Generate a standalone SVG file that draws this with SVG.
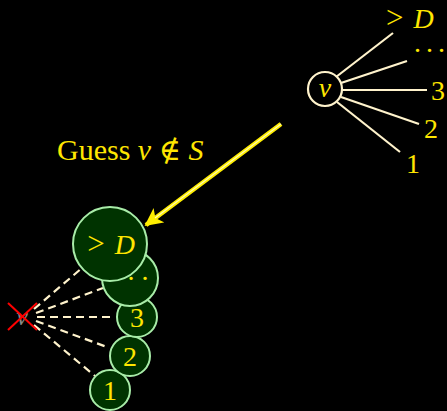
<svg xmlns="http://www.w3.org/2000/svg" width="447" height="411" viewBox="0 0 447 411">
<style>
.lbl{font-family:"Liberation Serif","DejaVu Serif",serif;fill:#ffe600;font-size:28px}
.it{font-style:italic}
.gt{font-size:31px}
.spoke{stroke:#fff3cc;stroke-width:2.2;fill:none}
.dash{stroke:#fff3cc;stroke-width:2.2;stroke-dasharray:8 5;fill:none}
.gc{fill:#003300;stroke:#a8eca8;stroke-width:2}
</style>
<defs>
<marker id="ah" viewBox="0 0 10 10" refX="9" refY="5" markerWidth="4" markerHeight="4" orient="auto" markerUnits="strokeWidth">
<path d="M0,0 L10,5 L0,10 L2.5,5 z" fill="#ffee00"/>
</marker>
</defs>
<rect width="447" height="411" fill="#000"/>
<g id="connectors">
<line class="spoke" x1="336" y1="77" x2="393" y2="33"/>
<line class="spoke" x1="341" y1="83" x2="407" y2="61"/>
<line class="spoke" x1="342" y1="90" x2="427" y2="90"/>
<line class="spoke" x1="341" y1="97" x2="419" y2="124"/>
<line class="spoke" x1="337" y1="102" x2="400" y2="152"/>
<line class="dash" x1="34" y1="309" x2="82" y2="268"/>
<line class="dash" x1="36" y1="313" x2="103" y2="288"/>
<line class="dash" x1="37" y1="317" x2="114" y2="317"/>
<line class="dash" x1="36" y1="321" x2="107" y2="347"/>
<line class="dash" x1="34" y1="325" x2="95" y2="376"/>
<line x1="281" y1="124" x2="146" y2="225" stroke="#ffee00" stroke-width="4.5" marker-end="url(#ah)"/>
<line x1="281" y1="124" x2="155" y2="218" stroke="#fffbb0" stroke-width="1.2"/>
</g>
<g id="v-top">
<circle cx="325" cy="89" r="17" fill="#000" stroke="#fff3cc" stroke-width="2.2"/>
<text class="lbl it" x="325" y="97" text-anchor="middle">v</text>
</g>
<g id="top-labels">
<text class="lbl" x="386" y="28"><tspan class="gt">&gt;</tspan><tspan class="it" dx="10">D</tspan></text>
<text class="lbl" x="414" y="52" letter-spacing="-1">. . .</text>
<text class="lbl" x="431" y="100">3</text>
<text class="lbl" x="424" y="138">2</text>
<text class="lbl" x="406" y="173">1</text>
</g>
<g id="guess">
<text class="lbl" x="57" y="160" style="font-size:30px">Guess <tspan class="it">v</tspan> ∉ <tspan class="it">S</tspan></text>
</g>
<g id="x-node">
<text x="22" y="325" text-anchor="middle" font-family="Liberation Serif,serif" font-style="italic" font-size="26" fill="#888">v</text>
<line x1="8" y1="303" x2="37" y2="330" stroke="#ff0000" stroke-width="2"/>
<line x1="8" y1="330" x2="37" y2="303" stroke="#ff0000" stroke-width="2"/>
</g>
<g id="c1"><circle class="gc" cx="110" cy="390" r="20"/><text class="lbl" x="110" y="400" text-anchor="middle">1</text></g>
<g id="c2"><circle class="gc" cx="130" cy="356" r="20"/><text class="lbl" x="130" y="366" text-anchor="middle">2</text></g>
<g id="c3"><circle class="gc" cx="137" cy="317" r="20"/><text class="lbl" x="137" y="327" text-anchor="middle">3</text></g>
<g id="cdots"><circle class="gc" cx="130" cy="278" r="28"/><text class="lbl" x="131" y="280" text-anchor="middle">. . .</text></g>
<g id="cD"><circle class="gc" cx="110" cy="244" r="37"/><text class="lbl" x="111" y="254" text-anchor="middle"><tspan class="gt">&gt;</tspan><tspan class="it" dx="10">D</tspan></text></g>
</svg>
